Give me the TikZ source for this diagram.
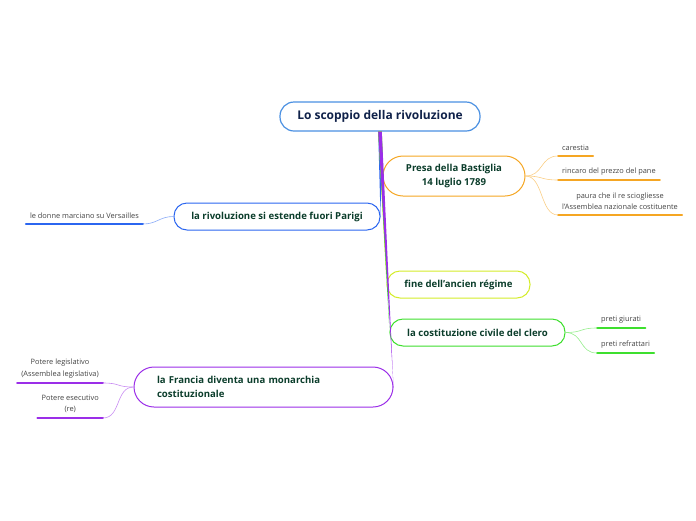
\documentclass[tikz,border=0pt]{standalone}
\usepackage{fontspec}
\setmainfont{Open Sans}
\usepackage{xcolor}
\usetikzlibrary{calc}

\definecolor{rootC}{HTML}{4A90E2}
\definecolor{rootT}{HTML}{10224A}
\definecolor{nodeT}{HTML}{0B3D2B}
\definecolor{leafT}{HTML}{444444}
\definecolor{orangeC}{HTML}{F5A623}
\definecolor{blueC}{HTML}{2B66F0}
\definecolor{yellowC}{HTML}{D4EC2A}
\definecolor{greenC}{HTML}{3EDF2E}
\definecolor{purpleC}{HTML}{9B2EE8}

\begin{document}
\begin{tikzpicture}[
    x=1pt, y=-1pt,
    line join=round, line cap=round,
    rootbox/.style={draw=rootC, line width=1.2pt, rounded corners=14pt, fill=white,
      minimum width=200pt, minimum height=29pt, text=rootT,
      font=\fontsize{12}{14}\selectfont\bfseries},
    branch/.style={draw=#1, line width=1pt, rounded corners=13pt, fill=white,
      minimum height=27pt, text=nodeT, align=center,
      font=\fontsize{9.6}{13.5}\selectfont\bfseries},
    leaf/.style={inner xsep=4pt, inner ysep=5pt, text=leafT, align=center,
      font=\fontsize{7.4}{11.5}\selectfont},
    uline/.style={draw=#1, line width=2pt},
    twig/.style={draw=#1!55, line width=0.6pt},
  ]

  % ---------- frame ----------
  \useasboundingbox (0,0) rectangle (696,520);

  % ---------- main nodes ----------
  \node[rootbox] (root) at (380,116.5) {Lo scoppio della rivoluzione};
  \node[branch=orangeC, minimum width=142pt, minimum height=40pt, rounded corners=20pt]
    (presa) at (454,176) {Presa della Bastiglia\\14 luglio 1789};
  \node[branch=blueC, minimum width=206pt] (parigi) at (277,216.5)
    {la rivoluzione si estende fuori Parigi};
  \node[branch=yellowC, minimum width=143pt] (ancien) at (458.5,284.5)
    {fine dell'ancien régime};
  \node[branch=greenC, minimum width=175pt] (clero) at (477.5,332.5)
    {la costituzione civile del clero};
  \node[branch=purpleC, minimum width=259pt, minimum height=40pt, rounded corners=20pt,
    text width=213pt, align=left] (francia) at (263.5,387)
    {la Francia diventa una monarchia\\costituzionale};

  % ---------- tapered links from the root (purple last, on top) ----------
  \foreach \dst/\col in {parigi.east/blueC, presa.west/orangeC, ancien.west/yellowC,
                         clero.west/greenC, francia.east/purpleC}{
    \fill[\col] ($(root.south)+(-1.8,0)$) -- ($(\dst)+(0,-0.8)$)
      -- ($(\dst)+(0,0.8)$) -- ($(root.south)+(1.8,0)$) -- cycle;
  }

  % ---------- leaves ----------
  \node[leaf, anchor=south west] (carestia) at (558,156) {carestia};
  \node[leaf, anchor=south west] (rincaro) at (558,180) {rincaro del prezzo del pane};
  \node[leaf, anchor=south west] (paura) at (558,215)
    {paura che il re sciogliesse\\l'Assemblea nazionale costituente};
  \node[leaf, anchor=south east] (donne) at (143,224) {le donne marciano su Versailles};
  \node[leaf, anchor=south west] (giurati) at (597,328) {preti giurati};
  \node[leaf, anchor=south west] (refrattari) at (597,353) {preti refrattari};
  \node[leaf, anchor=south east] (legisl) at (103,383)
    {Potere legislativo\\(Assemblea legislativa)};
  \node[leaf, anchor=south east] (esec) at (103,418) {Potere esecutivo\\(re)};

  % ---------- underlines ----------
  \foreach \lf/\col in {carestia/orangeC, rincaro/orangeC, paura/orangeC, donne/blueC,
                        giurati/greenC, refrattari/greenC, legisl/purpleC, esec/purpleC}{
    \draw[uline=\col] (\lf.south west) -- (\lf.south east);
  }

  % ---------- twigs ----------
  \foreach \lf in {carestia, rincaro, paura}{
    \draw[twig=orangeC] (presa.east) .. controls +(18,0) and +(-18,0) .. (\lf.south west);
  }
  \draw[twig=blueC] (parigi.west) .. controls +(-14,0) and +(14,0) .. (donne.south east);
  \foreach \lf in {giurati, refrattari}{
    \draw[twig=greenC] (clero.east) .. controls +(18,0) and +(-18,0) .. (\lf.south west);
  }
  \foreach \lf in {legisl, esec}{
    \draw[twig=purpleC] (francia.west) .. controls +(-18,0) and +(18,0) .. (\lf.south east);
  }

\end{tikzpicture}
\end{document}
